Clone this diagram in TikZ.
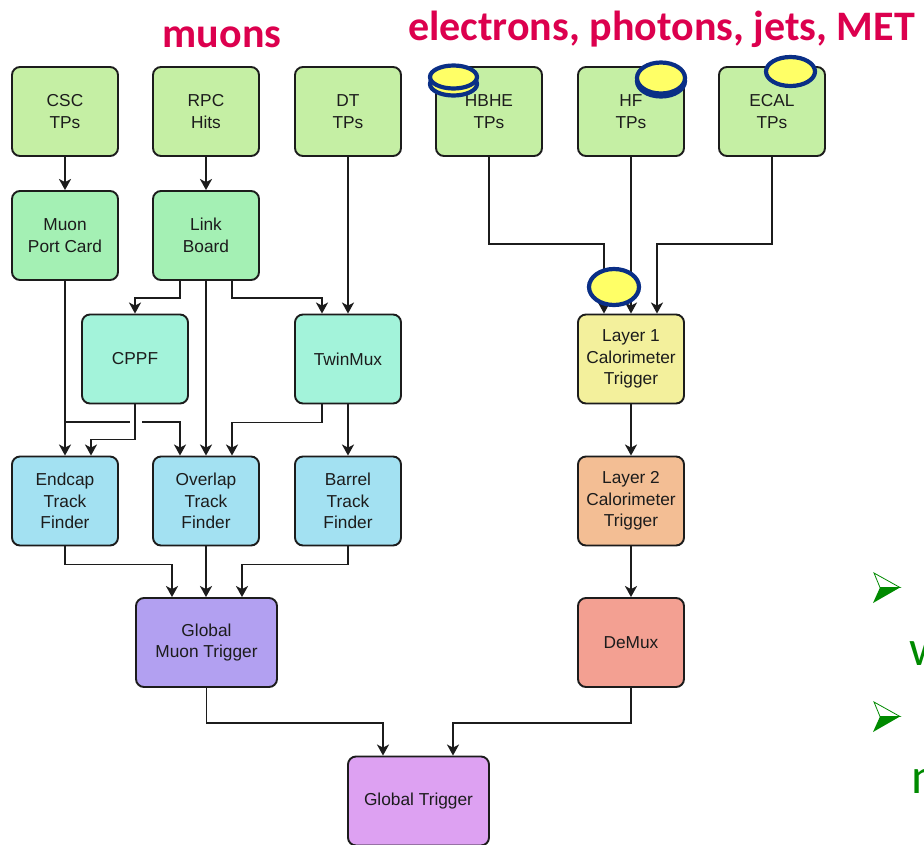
\documentclass[tikz,border=0pt]{standalone}
\usepackage{fontspec}
\setmainfont{Liberation Sans}
\newfontfamily\titlefont{Carlito}
\usetikzlibrary{arrows.meta,calc}
\definecolor{ctp}{HTML}{C5EFA4}
\definecolor{cmpc}{HTML}{A4F0B4}
\definecolor{ccppf}{HTML}{A3F3DA}
\definecolor{ctf}{HTML}{A3E1F2}
\definecolor{cgmt}{HTML}{B2A0F1}
\definecolor{cgt}{HTML}{DDA1F2}
\definecolor{cla}{HTML}{F3F09C}
\definecolor{clb}{HTML}{F3BE94}
\definecolor{cdm}{HTML}{F3A092}
\definecolor{crim}{HTML}{DC004E}
\definecolor{ellblue}{HTML}{0A2F86}
\definecolor{ellyel}{HTML}{FFFF66}
\definecolor{bgreen}{HTML}{008A00}
\definecolor{ink}{HTML}{1C1C1C}
\begin{document}
\begin{tikzpicture}[x=1pt,y=-1pt,
  blk/.style={draw=ink, line width=1.9pt, rounded corners=8pt, minimum width=106pt,
    minimum height=89pt, align=center, font=\fontsize{17.3}{21.5}\selectfont, text=ink, inner sep=0pt},
  wide/.style={blk, minimum width=141pt},
  arr/.style={draw=ink, line width=1.8pt, -{Stealth[length=11pt,width=12pt,inset=3pt]}},
  ln/.style={draw=ink, line width=1.8pt},
  dot/.style={draw=ellblue, fill=ellyel, line width=4.2pt},
  ttl/.style={anchor=base, inner sep=0pt, text=crim, font={\titlefont\bfseries\fontsize{42}{50}\selectfont}},
  gtxt/.style={anchor=base west, inner sep=0pt, text=bgreen, font={\titlefont\fontsize{50}{60}\selectfont}}
  ]
\useasboundingbox (0,0) rectangle (924,844);
\clip (0,0) rectangle (924,844);
\fill[white] (0,0) rectangle (924,844);

% titles
\node[ttl] (tmu) at (222,47) {muons};
\node[ttl, anchor=base west] (tcal) at (408,40) {electrons, photons, jets, MET};

% row 1
\node[blk, fill=ctp] (CSC) at (65,111.5) {CSC\\TPs};
\node[blk, fill=ctp] (RPC) at (206,111.5) {RPC\\Hits};
\node[blk, fill=ctp] (DT) at (348,111.5) {DT\\TPs};
\node[blk, fill=ctp] (HBHE) at (489,111.5) {HBHE\\TPs};
\node[blk, fill=ctp] (HF) at (631,111.5) {HF\\TPs};
\node[blk, fill=ctp] (ECAL) at (772,111.5) {ECAL\\TPs};
% row 2
\node[blk, fill=cmpc] (MPC) at (65,235.5) {Muon\\Port Card};
\node[blk, fill=cmpc] (LB) at (206,235.5) {Link\\Board};
% row 3
\node[blk, fill=ccppf] (CPPF) at (135,359) {CPPF};
\node[blk, fill=ccppf] (TM) at (348,359) {TwinMux};
\node[blk, fill=cla] (L1) at (631,359) {Layer 1\\Calorimeter\\Trigger};
% row 4
\node[blk, fill=ctf] (ETF) at (65,501) {Endcap\\Track\\Finder};
\node[blk, fill=ctf] (OTF) at (206,501) {Overlap\\Track\\Finder};
\node[blk, fill=ctf] (BTF) at (348,501) {Barrel\\Track\\Finder};
\node[blk, fill=clb] (L2) at (631,501) {Layer 2\\Calorimeter\\Trigger};
% row 5
\node[wide, fill=cgmt] (GMT) at (206.5,642.5) {Global\\Muon Trigger};
\node[blk, fill=cdm] (DM) at (631,642.5) {DeMux};
% row 6
\node[wide, fill=cgt] (GT) at (418.5,801) {Global Trigger};

% muon connectors
\draw[arr] (CSC) -- (MPC);
\draw[arr] (RPC) -- (LB);
\draw[arr] (DT) -- (TM);
\draw[arr] ([xshift=-26pt]LB.south) -- ++(0,17) -| (CPPF.north);
\draw[arr] ([xshift=26pt]LB.south) -- ++(0,17) -| ([xshift=-26pt]TM.north);
\draw[arr] (LB) -- (OTF);
\draw[arr] (MPC) -- (ETF);
\draw[ln] ($(MPC.south)+(0,141)$) -- ++(65,0);
\draw[arr] ($(MPC.south)+(77,141)$) -| ([xshift=-26pt]OTF.north);
\draw[arr] (CPPF.south) -- ++(0,35) -| ([xshift=26pt]ETF.north);
\draw[arr] ([xshift=-26pt]TM.south) -- ++(0,18) -| ([xshift=26pt]OTF.north);
\draw[arr] (TM) -- (BTF);
\draw[arr] (ETF.south) -- ++(0,18) -| ([xshift=-34.5pt]GMT.north);
\draw[arr] (OTF.south) -- (OTF.south |- GMT.north);
\draw[arr] (BTF.south) -- ++(0,18) -| ([xshift=35.5pt]GMT.north);
\draw[arr] (GMT.south) -- ++(0,35) -| ([xshift=-35.5pt]GT.north);

% calo connectors
\draw[arr] (HBHE.south) -- ++(0,87) -| ([xshift=-27pt]L1.north);
\draw[arr] (HF) -- (L1);
\draw[arr] (ECAL.south) -- ++(0,87) -| ([xshift=26pt]L1.north);
\draw[arr] (L1) -- (L2);
\draw[arr] (L2) -- (DM);
\draw[arr] (DM.south) -- ++(0,35) -| ([xshift=34.5pt]GT.north);

% yellow markers
\draw[dot] (453.5,84) ellipse [x radius=23.5, y radius=11.5];
\draw[dot] (453.5,77) ellipse [x radius=23.5, y radius=11.5];
\draw[dot] (661,81) ellipse [x radius=24, y radius=15.5];
\draw[dot] (661,78) ellipse [x radius=24, y radius=15.5];
\draw[dot] (790.5,71.5) ellipse [x radius=24.5, y radius=14.5];
\draw[dot] (614,287) ellipse [x radius=25, y radius=18];

% green bullets and cut text
\draw[bgreen, line width=0.8pt, line join=miter] (874,573) -- (900,587.5) -- (880,587.5) -- cycle;
\fill[bgreen] (880,587.5) -- (900,587.5) -- (873,603) -- cycle;
\draw[bgreen, line width=0.8pt, line join=miter] (874,702) -- (900,716.5) -- (880,716.5) -- cycle;
\fill[bgreen] (880,716.5) -- (900,716.5) -- (873,732) -- cycle;
\node[gtxt] (gw) at (909,665) {w};
\node[gtxt] (gn) at (911,793) {n};
\end{tikzpicture}
\end{document}
